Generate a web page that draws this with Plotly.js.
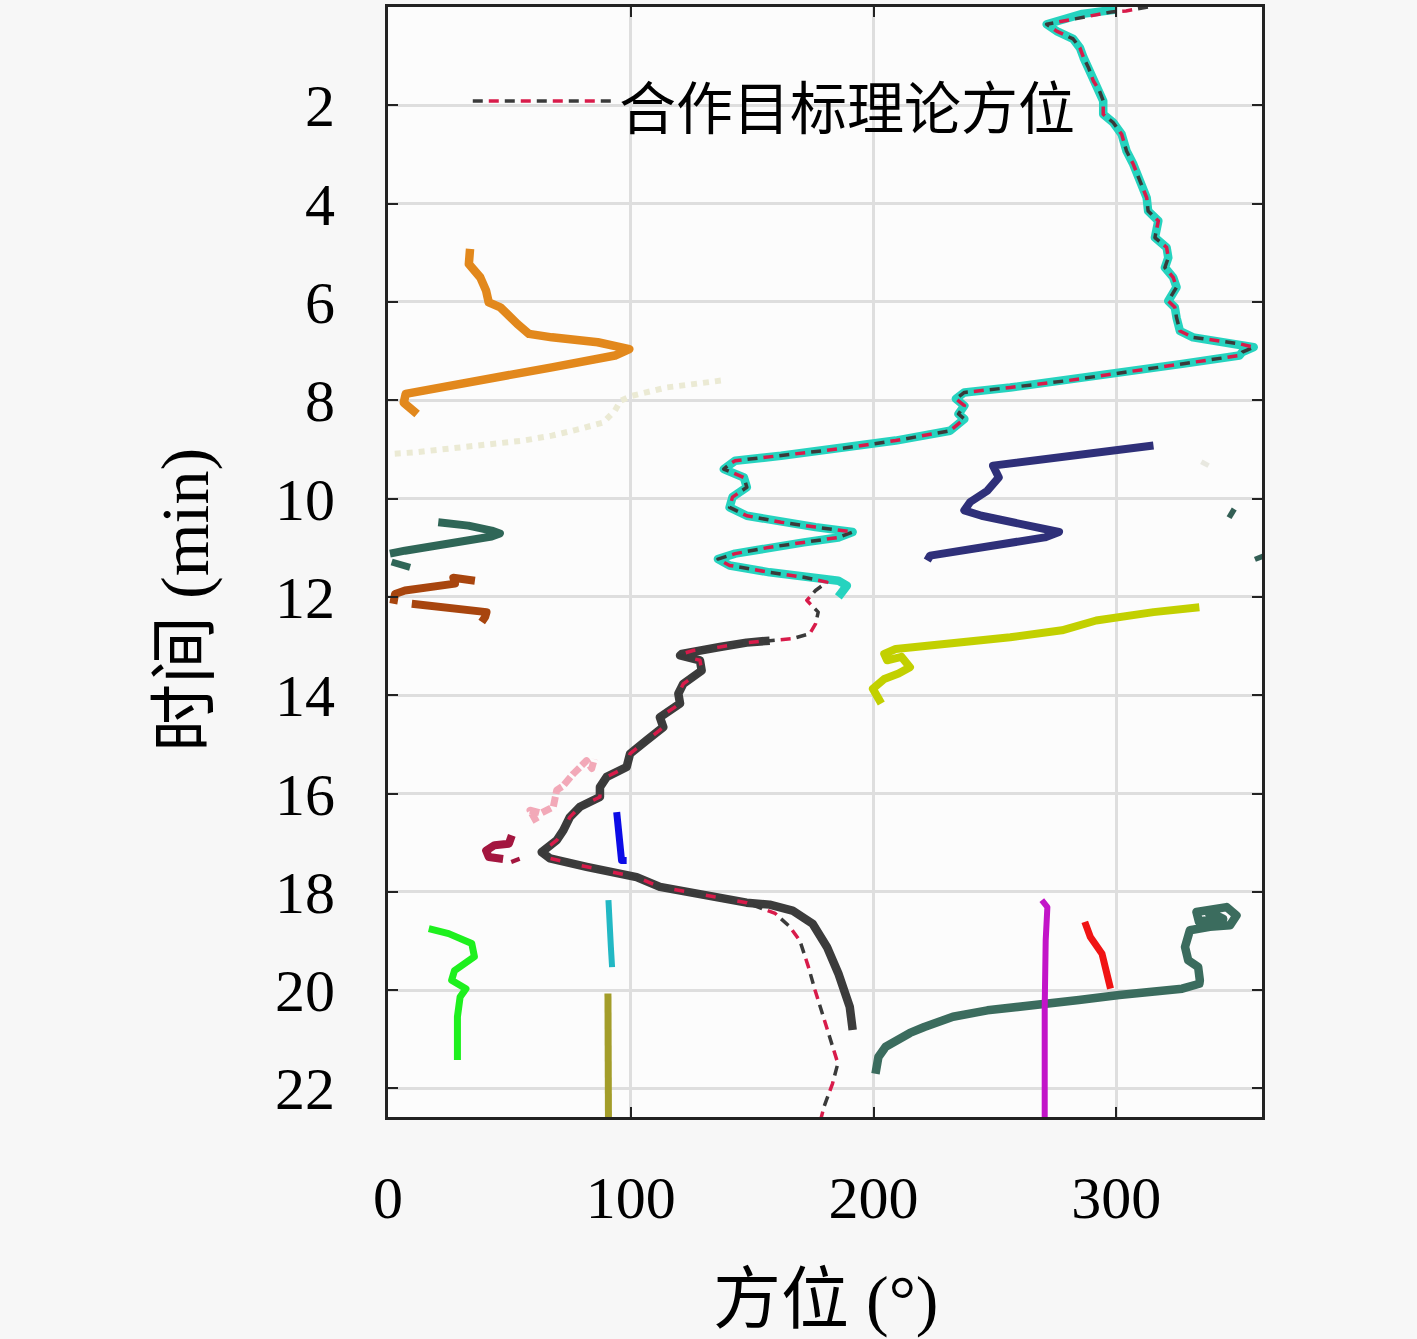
<!DOCTYPE html>
<html>
<head>
<meta charset="utf-8">
<script src="https://cdn.plot.ly/plotly-3.0.1.min.js"></script>
<style>html,body{margin:0;padding:0;background:#f7f7f7;}#chart{width:1417px;height:1339px;}
#chart path.js-line{stroke-linejoin:round;}</style>
</head>
<body>
<div id="chart"></div>
<script>
// ---- data: time (min) and bearing (deg) of each track ----
const xTicks = [0, 100, 200, 300];
const yTicks = [2, 4, 6, 8, 10, 12, 14, 16, 18, 20, 22];
const legendLabel = '合作目标理论方位';

const cyanT = [0.05,0.14,0.35,0.49,0.65,0.83,1.03,1.23,1.5,1.7,1.91,2.18,2.35,2.59,2.93,3.2,3.54,3.88,4.15,4.35,4.69,4.89,5.1,5.3,5.5,5.7,5.98,6.11,6.32,6.59,6.72,6.79,6.85,6.92,7.02,7.09,7.26,7.43,7.6,7.74,7.84,7.97,8.11,8.28,8.38,8.62,8.82,8.99,9.13,9.23,9.3,9.4,9.57,9.77,9.97,10.18,10.35,10.48,10.58,10.68,10.79,10.89,10.99,11.12,11.23,11.36,11.5,11.6,11.67,11.77,11.94,12.0];
const cyanA = [300,286,271.3,275.4,282.2,285,286.5,288.5,290.5,293,294.6,294.6,298.7,302.2,304.2,307,309.7,312.5,313.1,317.3,315.9,320.7,321.4,320,323.4,324.8,321.4,324.1,324.8,326.2,331.6,342.7,350.7,356.6,351.9,350.7,327.1,303.5,279.9,256.3,237.4,233.9,237.4,235,237.4,231.5,209.1,185.5,161.9,143,140.7,138.3,146.6,147.8,141.9,140.7,147.8,161.9,176.1,191.4,185.5,171.3,157.2,143,135.9,140.7,157.2,171.3,185.5,189,186.7,185.5];

const darkT = [12.89,12.93,13.02,13.09,13.16,13.19,13.29,13.5,13.77,13.97,14.17,14.45,14.65,14.92,15.19,15.46,15.66,15.87,16.07,16.27,16.48,16.75,16.95,17.19,17.32,17.49,17.7,17.9,18.1,18.22,18.26,18.38,18.65,19.12,19.66,20.34,20.81];
const darkA = [157.2,147.7,136.7,125.7,121,120.3,128.5,129.2,121.6,119.6,120.3,112,113.4,106.5,99.7,98.3,90.1,87.3,87.3,79.1,74.9,72.2,69.5,63.3,66.7,81.8,102.4,112,133.6,147.7,157.2,166.6,174.9,180.8,185.5,190.2,191.4];

const theoryHeadT = [0, 0.08, 0.1];
const theoryHeadA = [313, 304, 298];
const theoryGapT = [11.7,11.87,12.07,12.31,12.55,12.75,12.85];
const theoryGapA = [180.8,176.1,172.5,177.2,176.1,173.7,166.6];
const theoryTailT = [18.44,18.71,19.0,19.5,20.0,20.5,21.0,21.49,21.9,22.37,22.6];
const theoryTailA = [159.5,165.5,169.7,173,175.9,179,182,185.3,183.1,179.6,178.4];

const orangeT = [4.92,5.23,5.5,5.77,6.01,6.11,6.45,6.65,6.72,6.82,6.96,7.09,7.33,7.53,7.77,7.87,8.05,8.2,8.28];
const orangeA = [33.8,33.3,38,40.4,41.5,46.3,53.3,58.1,67.5,86.4,99.4,93.5,67.5,43.9,20.3,7.3,6.5,10,12];

const ivoryT = [7.6,7.67,7.74,7.91,8.01,8.21,8.45,8.58,8.72,8.82,8.89,8.96,9.06,9.09];
const ivoryA = [137.1,126.5,114.7,100.5,95.8,93.5,88.7,79.3,67.5,55.7,43.9,27.4,10.9,1.4];
const faintT = [9.25, 9.33];
const faintA = [335, 338];

const navyT = [8.92,9.02,9.13,9.26,9.33,9.57,9.84,10.07,10.24,10.35,10.55,10.68,10.79,10.89,11.02,11.16,11.26];
const navyA = [315.3,298.8,279.9,256.3,249.2,251.6,246.9,239.8,237.4,244.5,263.4,276.4,270.5,256.3,237.4,223.3,222.1];

const slateDot1T = [10.27, 10.33];
const slateDot1A = [346.5, 348.5];
const slateDot2T = [11.15, 11.25];
const slateDot2A = [358.6, 359.4];

const tealLeftT = [10.48,10.55,10.65,10.71,10.77,10.84,10.96,11.06,11.12];
const tealLeftA = [20.7,33.1,42.7,46.1,42.7,33.1,19.4,7,0.8];
const tealLeft2T = [11.29, 11.4];
const tealLeft2A = [1.5, 9.1];

const brown1T = [12.14,11.94,11.87,11.8,11.73,11.61,11.63,11.67];
const brown1A = [2.2,2.9,7,19.4,27.6,26.9,33.1,35.8];
const brown2T = [12.14,12.2,12.24,12.31,12.41,12.51];
const brown2A = [9.8,19.4,31.7,40.6,40,38.6];

const limeT = [12.21,12.31,12.48,12.68,12.82,12.95,13.06,13.16,13.29,13.22,13.43,13.56,13.67,13.87,14.04,14.17];
const limeA = [334.2,315.3,291.7,277.6,256.3,232.7,209.1,204.4,205.6,211.5,215,210.3,204.4,199.7,202,203.2];

const pinkT = [16.58,16.34,16.4,16.27,15.93,15.85,15.6,15.33,15.49,15.3];
const pinkA = [61.2,58.5,63,68.1,69.5,72,76.3,81.8,83.9,85];

const crimsonT = [16.85,17.02,17.05,17.16,17.29,17.33];
const crimsonA = [51,49.8,43.9,40.4,41.5,47.4];
const crimsonDotT = [17.32, 17.4];
const crimsonDotA = [52.2, 52.8];

const blueT = [16.38,16.68,17.09,17.36,17.36];
const blueA = [94.2,94.9,95.6,96.2,98.3];

const midCyanT = [18.17,18.71,19.12,19.53];
const midCyanA = [90.8,91.1,91.8,92.3];

const oliveT = [20.07,21.02,22.6];
const oliveA = [90.6,90.6,90.8];

const greenT = [18.75,18.85,19.05,19.32,19.6,19.8,19.97,20.14,20.54,21.02,21.42];
const greenA = [16.8,25,34.5,35.6,27.4,26.2,32.1,29.7,28.6,28.6,28.6];

const magentaT = [18.17,18.31,18.99,20.34,22.6];
const magentaA = [269.3,271.6,270.9,270.5,270.5];

const redT = [18.61,18.92,19.26,19.66,19.97];
const redA = [287,289.3,294.1,296.4,297.6];

const slateT = [21.7,21.5,21.36,21.15,21.02,20.87,20.75,20.54,20.41,20.34,20.31,20.2,20.1,20.03,19.97,19.87,19.8,19.53,19.39,19.12,18.78,18.71,18.68,18.48,18.31,18.41,18.6,18.55,18.45,18.52];
const slateA = [200.8,201,202,205,209.1,215,220.9,232.7,246.9,261.1,270.5,284.6,301.2,315.3,327.1,334.2,334.4,333.7,329.6,328.3,330.3,338.5,346.8,349.5,345.4,333,334,344,340,337];

// ---- build theoretical series from its pieces ----
const theoryT = theoryHeadT.concat(cyanT.slice(2, 68), theoryGapT, darkT.slice(0, 30), theoryTailT);
const theoryA = theoryHeadA.concat(cyanA.slice(2, 68), theoryGapA, darkA.slice(0, 30), theoryTailA);

function track(a, t, color, width, dash) {
  return {x: a, y: t, type: 'scatter', mode: 'lines', showlegend: false, hoverinfo: 'skip',
    line: {color: color, width: width || 8, dash: dash || 'solid', shape: 'linear'}};
}

const traces = [
  track(ivoryA, ivoryT, '#ebead4', 6, 'dot'),
  track(faintA, faintT, '#e8e8e0', 5),
  track(orangeA, orangeT, '#e2881c', 8.5),
  track(navyA, navyT, '#2f3079', 8),
  track(slateDot1A, slateDot1T, '#335f55', 10),
  track(slateDot2A, slateDot2T, '#335f55', 10),
  track(tealLeftA, tealLeftT, '#2f6657', 8),
  track(tealLeft2A, tealLeft2T, '#2f6657', 7),
  track(brown1A, brown1T, '#a8450e', 8),
  track(brown2A, brown2T, '#a8450e', 8),
  track(limeA, limeT, '#c2d000', 8),
  track(pinkA, pinkT, '#f2a9b8', 7, '10px,3px'),
  track(crimsonA, crimsonT, '#a3163f', 8),
  track(crimsonDotA, crimsonDotT, '#a3163f', 9),
  track(blueA, blueT, '#0c0ce6', 7),
  track(midCyanA, midCyanT, '#22b8c4', 6),
  track(oliveA, oliveT, '#a39d2a', 7),
  track(greenA, greenT, '#1ef01e', 7),
  track(redA, redT, '#f01414', 7),
  track(slateA, slateT, '#3b6c5e', 8.5),
  track(magentaA, magentaT, '#c214c8', 6),
  track(cyanA, cyanT, '#26d3bf', 8.5),
  track(darkA, darkT, '#3c3c3c', 8.5),
  track(theoryA, theoryT, '#3a3a3a', 3.5, '10px,22px'),
  track(theoryA, theoryT, '#d81b4a', 3.5, '0px,16px,10px,6px')
];

const plotBg = '#fcfcfc';
const fontFam = 'Liberation Serif, Noto Sans CJK SC, serif';

const layout = {
  width: 1417, height: 1339,
  paper_bgcolor: '#f7f7f7', plot_bgcolor: plotBg,
  margin: {l: 388, r: 155, t: 7, b: 222},
  font: {family: fontFam, color: '#000'},
  xaxis: {
    range: [0, 360], tickvals: xTicks, ticktext: xTicks.map(String),
    ticks: 'inside', ticklen: 10, tickwidth: 2, tickcolor: '#222',
    showline: true, linewidth: 3, linecolor: '#222', mirror: 'ticks',
    showgrid: true, gridcolor: '#dedede', gridwidth: 3, zeroline: false,
    tickfont: {family: fontFam, size: 60, color: '#000'}, ticklabelstandoff: 26,
    automargin: false
  },
  yaxis: {
    range: [22.58, 0], tickvals: yTicks, ticktext: yTicks.map(String),
    ticks: 'inside', ticklen: 10, tickwidth: 2, tickcolor: '#222',
    showline: true, linewidth: 3, linecolor: '#222', mirror: 'ticks',
    showgrid: true, gridcolor: '#dedede', gridwidth: 3, zeroline: false,
    tickfont: {family: fontFam, size: 60, color: '#000'}, ticklabelstandoff: 38,
    automargin: false
  },
  shapes: [
    {type: 'rect', xref: 'paper', yref: 'paper', x0: 0.094, x1: 0.786, y0: 0.868, y1: 0.937,
      fillcolor: plotBg, line: {width: 0}, layer: 'between'},
    {type: 'line', xref: 'paper', yref: 'paper', x0: 0.097, x1: 0.26, y0: 0.9153, y1: 0.9153,
      line: {color: '#3a3a3a', width: 3.5, dash: '10px,22px'}},
    {type: 'line', xref: 'paper', yref: 'paper', x0: 0.097, x1: 0.26, y0: 0.9153, y1: 0.9153,
      line: {color: '#d81b4a', width: 3.5, dash: '0px,16px,10px,6px'}}
  ],
  annotations: [
    {xref: 'paper', yref: 'paper', x: 0.262, y: 0.9126, xanchor: 'left', yanchor: 'middle',
      text: legendLabel, showarrow: false, font: {family: 'Noto Sans CJK SC', size: 57, color: '#000'}},
    {xref: 'paper', yref: 'paper', x: 0.5, y: -0.165, xanchor: 'center', yanchor: 'middle',
      text: '方位 (°)', showarrow: false, font: {family: fontFam, size: 68, color: '#000'}},
    {xref: 'paper', yref: 'paper', x: -0.232, y: 0.466, xanchor: 'center', yanchor: 'middle',
      text: '时间 (min)', textangle: -90, showarrow: false, font: {family: fontFam, size: 68, color: '#000'}}
  ]
};

Plotly.newPlot('chart', traces, layout, {displayModeBar: false, staticPlot: true});
</script>
</body>
</html>
